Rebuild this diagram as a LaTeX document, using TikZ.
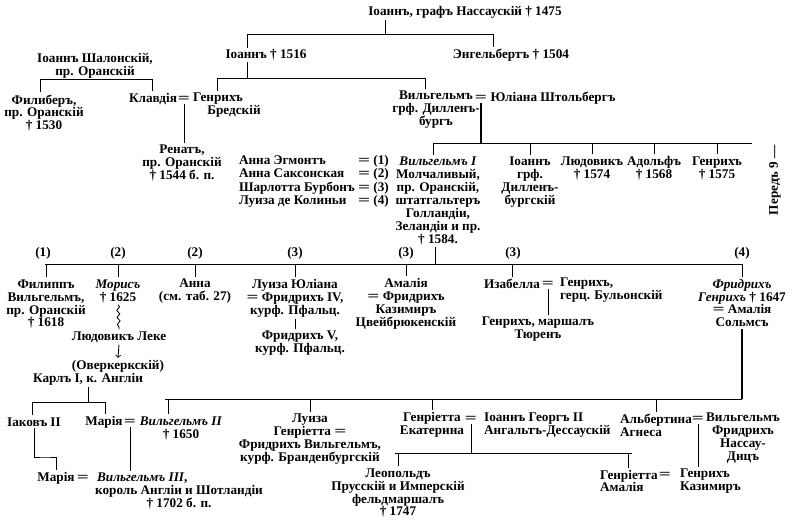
\documentclass[tikz,border=0pt]{standalone}
\usepackage{graphicx}
\usepackage{fontspec}
\setmainfont{Liberation Serif}
\usetikzlibrary{decorations.pathmorphing}
\newcommand{\gfont}{\fontsize{9.4}{9.2}\selectfont\bfseries}
\newcommand{\dbl}{\scalebox{1.6}[1]{=}}

\begin{document}
\begin{tikzpicture}[x=0.025cm,y=-0.025cm,
	every node/.style={inner sep=0pt,outer sep=1.5pt,align=center,font=\gfont},
	lnk/.style={line width=0.6pt},
	lnkb/.style={line width=1pt}]
	\useasboundingbox (0,0) rectangle (798,530);
					\node(v1) at (465,12){Іоаннъ, графъ Нассаускій † 1475};
					\node(v2) at (266,55){Іоаннъ † 1516};
					\node(v3) at (511,55){Энгельбертъ † 1504};
					\node(v4) at (95,66){Іоаннъ Шалонскій,\\пр. Оранскій};
					\node(v5) at (44,113){Филиберъ,\\пр. Оранскій\\† 1530};
					\node(v6) at (153,99){Клавдія};
					\node(v7) at (184,99){\dbl};
					\node(v8) at (218,99){Генрихъ};
					\node(v9) at (234,111){Бредскій};
					\node(v10) at (182,163){Ренатъ,\\пр. Оранскій\\† 1544 б. п.};
					\node(v11) at (436,110){Вильгельмъ\\грф. Дилленъ-\\бургъ};
					\node(v12) at (481,98){\dbl};
					\node(v13) at (553,98){Юліана Штольбергъ};
					\node[anchor=east](v14) at (391,182){\begin{tabular}{@{}l@{\ }c@{\ }l@{}}Анна Эгмонтъ&\dbl&(1)\\Анна Саксонская&\dbl&(2)\\Шарлотта Бурбонъ&\dbl&(3)\\Луиза де Колиньи&\dbl&(4)\end{tabular}};
					\node(v18) at (438,201){\textit{Вильгельмъ I}\\Молчаливый,\\пр. Оранскій,\\штатгальтеръ\\Голландіи,\\Зеландіи и пр.\\† 1584.};
					\node(v19) at (530,182){Іоаннъ\\грф.\\Дилленъ-\\бургскій};
					\node(v20) at (592,168){Людовикъ\\† 1574};
					\node(v21) at (654,168){Адольфъ\\† 1568};
					\node(v22) at (717,168){Генрихъ\\† 1575};
					\node[rotate=90](v23) at (775,180){Передъ 9 —};
					\node(v24) at (43,253){(1)};
					\node(v25) at (118,253){(2)};
					\node(v26) at (195,253){(2)};
					\node(v27) at (295,253){(3)};
					\node(v28) at (406,253){(3)};
					\node(v29) at (513,253){(3)};
					\node(v30) at (742,253){(4)};
					\node(v31) at (46,304){Филиппъ\\Вильгельмъ,\\пр. Оранскій\\† 1618};
					\node(v32) at (118,291){\textit{Морисъ}\\† 1625};
					\node(v33) at (119,337){Людовикъ Леке};
					\node(v34) at (118,366){(Оверкеркскій)};
					\node(v35) at (88,379){Карлъ I, к. Англіи};
					\node(v36) at (195,291){Анна\\(см. таб. 27)};
					\node(v37) at (295,298){Луиза Юліана\\\dbl{} Фридрихъ IV,\\курф. Пфальц.};
					\node(v38) at (300,343){Фридрихъ V,\\курф. Пфальц.};
					\node(v39) at (406,304){Амалія\\\dbl{} Фридрихъ\\Казимиръ\\Цвейбрюкенскій};
					\node(v40) at (512,284){Изабелла};
					\node(v41) at (548,284){\dbl};
					\node[anchor=west,align=left](v42) at (558,290){Генрихъ,\\герц. Бульонскій};
					\node(v43) at (538,329){Генрихъ, маршалъ\\Тюренъ};
					\node(v44) at (742,303){\textit{Фридрихъ}\\\textit{Генрихъ} † 1647\\\dbl{} Амалія\\Сольмсъ};
					\node(v45) at (34,422){Іаковъ II};
					\node(v46) at (104,422){Марія};
					\node(v47) at (130,422){\dbl};
					\node(v48) at (181,428){\textit{Вильгельмъ II}\\† 1650};
					\node(v49) at (56,478){Марія};
					\node(v50) at (83,478){\dbl};
					\node[anchor=west](v51) at (95,478){\textit{Вильгельмъ III},};
					\node(v52) at (179,491){король Англіи и Шотландіи};
					\node(v53) at (179,504){† 1702 б. п.};
					\node(v54) at (310,439){Луиза\\Генріетта \dbl\\Фридрихъ Вильгельмъ,\\курф. Бранденбургскій};
					\node(v55) at (432,425){Генріетта\\Екатерина};
					\node(v56) at (471,419){\dbl};
					\node[anchor=west,align=left](v57) at (482,425){Іоаннъ Георгъ II\\Ангальтъ-Дессаускій};
					\node(v58) at (398,493){Леопольдъ\\Прусскій и Имперскій\\фельдмаршалъ\\† 1747};
					\node[anchor=west,align=left](v59) at (598,481){Генріетта\\Амалія};
					\node(v60) at (665,475){\dbl};
					\node[anchor=west,align=left](v61) at (678,481){Генрихъ\\Казимиръ};
					\node[anchor=west,align=left](v62) at (618,425){Альбертина\\Агнеса};
					\node(v63) at (698,419){\dbl};
					\node(v64) at (743,438){Вильгельмъ\\Фридрихъ\\Нассау-\\Дицъ};
					\coordinate (b1) at (385,34);
					\coordinate (b1l) at (247,34);
					\coordinate (b1r) at (493,34);
					\coordinate (b2l) at (217,78);
					\coordinate (b2r) at (425,78);
					\coordinate (b3l) at (40,79);
					\coordinate (b3r) at (152,79);
					\coordinate (b4l) at (433,143);
					\coordinate (b4r) at (752,143);
					\coordinate (b5) at (435,264);
					\coordinate (b5l) at (45,264);
					\coordinate (b5r) at (742,264);
					\coordinate (b6) at (168,399);
					\coordinate (b6l) at (165,399);
					\coordinate (b6r) at (742,399);
					\coordinate (b7l) at (32,402);
					\coordinate (b7r) at (105,402);
					\coordinate (b8) at (45,457);
					\coordinate (b9l) at (395,453);
					\coordinate (b9r) at (632,453);
					\draw[lnk] (v1.south -| b1) -- (b1);
					\draw[lnk] (b1l |- v2.north) -- (b1l) -- (b1r) -- (b1r |- v3.north);
					\draw[lnk] (b1l |- v2.south) -- (b1l |- b2l);
					\draw[lnk] (b2l |- v8.north) -- (b2l) -- (b2r) -- (b2r |- v11.north);
					\draw[lnk] (b3l |- v5.north) -- (b3l) -- (b3r) -- (b3r |- v6.north);
					\draw[lnk] (v7.south) -- (v7.south |- v10.north);
					\draw[lnkb] (v12.south) -- (v12.south |- b4l);
					\draw[lnk] (b4l |- v18.north) -- (b4l) -- (b4r);
					\foreach \c in {v19,v20,v21,v22}
						\draw[lnk] (\c.north) -- (\c.north |- b4l);
					\draw[lnk] (v18.south -| b5) -- (b5);
					\draw[lnk] (b5l) -- (b5r);
					\foreach \c in {v31,v32,v36,v37,v39,v40,v44}
						\draw[lnk] (\c.north) -- (\c.north |- b5l);
					\draw[lnk,decorate,decoration={snake,amplitude=1pt,segment length=5pt}] (v32.south) -- (v33.north);
					\draw[lnk,->] (v33.south) -- (v34.north);
					\draw[lnk] (v37.south) -- (v37.south |- v38.north);
					\draw[lnk] (v41.south) -- (v41.south |- v43.north);
					\draw[lnkb] (v44.south) -- (v44.south |- b6r);
					\draw[lnk] (v35.south) -- (v35.south |- b7l);
					\draw[lnk] (b7l |- v45.north) -- (b7l) -- (b7r) -- (b7r |- v46.north);
					\draw[lnk] (v45.south) |- (b8) -| (v49.north);
					\draw[lnk] (v47.south) -- (v47.south |- v51.north);
					\draw[lnk] (b6l) -- (b6r);
					\draw[lnk] (b6) -- (b6 |- v48.north);
					\foreach \c in {v54,v55,v62}
						\draw[lnk] (\c.north) -- (\c.north |- b6l);
					\draw[lnk] (v56.south) -- (v56.south |- b9l);
					\draw[lnk] (b9l) -- (b9r);
					\foreach \c in {v58,v59}
						\draw[lnk] (\c.north) -- (\c.north |- b9l);
					\draw[lnk] (v63.south) -- (v63.south |- v61.north);
\end{tikzpicture}
\end{document}
